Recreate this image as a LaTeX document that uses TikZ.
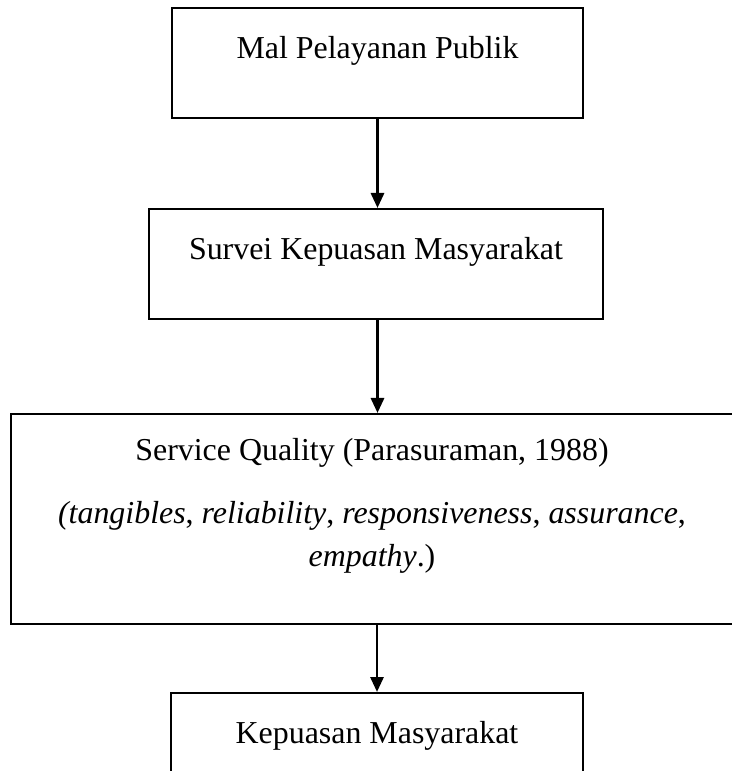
\documentclass[tikz,border=0pt]{standalone}
\usepackage{fontspec}
\setmainfont{Liberation Serif}
\usepackage{tikz}
\usetikzlibrary{arrows.meta,positioning}

\begin{document}
\begin{tikzpicture}[x=0.376pt, y=-0.376pt,
  >={Triangle[width=5pt, length=5.6pt]},
  font=\fontsize{12}{13.8}\selectfont,
  box/.style={draw, line width=0.8pt, inner sep=0pt, align=center},
  oneline/.style={text height=9pt, text depth=12.6pt},
  flow/.style={->, line width=0.8pt}]

% =========================================================
% Page frame: the last box runs off the bottom edge
% =========================================================
\useasboundingbox (0,0) rectangle (732,771);
\clip (0,0) rectangle (732,771);

% =========================================================
% Boxes, top to bottom
% =========================================================
\node[box, oneline, minimum width=154.5pt, minimum height=41.4pt]
  (mal) at (377.5,63) {Mal Pelayanan Publik};

\node[box, oneline, minimum width=170.7pt, minimum height=41.4pt]
  (survei) at (376,264) {Survei Kepuasan Masyarakat};

\node[box, minimum width=271.5pt, minimum height=79pt]
  (servqual) at (372,519)
  {Service Quality (Parasuraman, 1988)\\[9.9pt]
   \textit{(tangibles}, \textit{reliability}, \textit{responsiveness}, \textit{assurance},\\[2.2pt]
   \textit{empathy}.)\\[-1.2pt]\mbox{}};

\node[box, oneline, minimum width=154.9pt, minimum height=41.4pt]
  (kepuasan) at (377,748) {Kepuasan Masyarakat};

% =========================================================
% Arrows
% =========================================================
\draw[flow] (mal.south) -- (mal.south |- survei.north);
\draw[flow] (mal.south |- survei.south) -- (mal.south |- servqual.north);
\draw[flow] (kepuasan.north |- servqual.south) -- (kepuasan.north);

\end{tikzpicture}
\end{document}
